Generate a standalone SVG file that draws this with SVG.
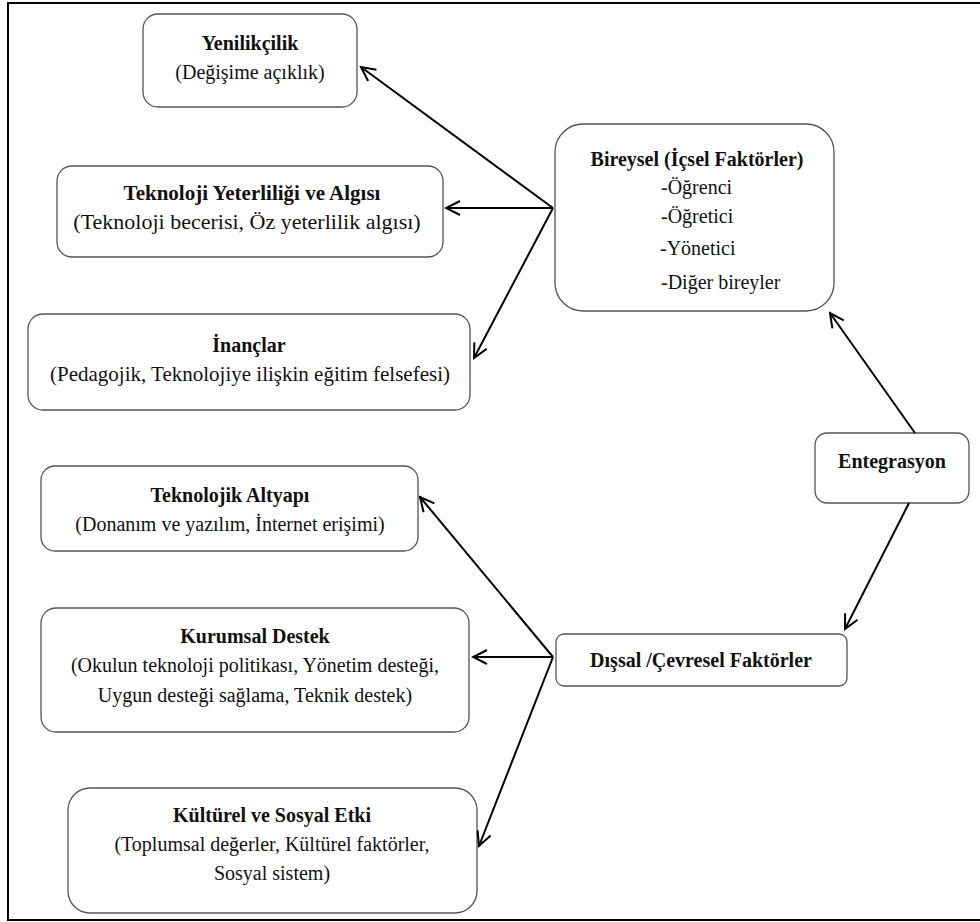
<svg xmlns="http://www.w3.org/2000/svg" width="980" height="922" viewBox="0 0 980 922">
<style>
  .box { fill: #ffffff; stroke: #555555; stroke-width: 1.3; }
  text { font-family: 'Liberation Serif', 'Times New Roman', Times, 'DejaVu Serif', serif; font-size: 20px; fill: #111111; text-anchor: middle; }
  .b { font-weight: bold; }
  .l { text-anchor: start; }
  .s21 { font-size: 21px; }
  .s22 { font-size: 22px; }
  .conn line { stroke: #000000; stroke-width: 2; marker-end: url(#arr); }
</style>
<defs>
  <marker id="arr" markerUnits="userSpaceOnUse" markerWidth="18" markerHeight="18" viewBox="0 0 18 18" refX="16" refY="9" orient="auto">
    <path d="M2,2 L16,9 L2,16" fill="none" stroke="#000000" stroke-width="2"/>
  </marker>
</defs>
<rect x="0" y="0" width="980" height="922" fill="#ffffff"/>
<path d="M990,3 H8 V920 H990" fill="none" stroke="#000000" stroke-width="2"/>

<g id="yenilikcilik">
  <rect class="box" x="143" y="14" width="214" height="93" rx="15"/>
  <text class="b" x="250" y="50">Yenilikçilik</text>
  <text x="250" y="79">(Değişime açıklık)</text>
</g>
<g id="teknoloji-yeterliligi">
  <rect class="box" x="57" y="166" width="386" height="91" rx="15"/>
  <text class="b s21" x="252" y="200">Teknoloji Yeterliliği ve Algısı</text>
  <text class="s22" x="247" y="229">(Teknoloji becerisi, Öz yeterlilik algısı)</text>
</g>
<g id="inanclar">
  <rect class="box" x="28" y="314" width="442" height="96" rx="15"/>
  <text class="b" x="249" y="352">İnançlar</text>
  <text class="s21" x="250" y="381">(Pedagojik, Teknolojiye ilişkin eğitim felsefesi)</text>
</g>
<g id="bireysel">
  <rect class="box" x="555" y="124" width="279" height="187" rx="28"/>
  <text class="b" x="697" y="166">Bireysel (İçsel Faktörler)</text>
  <text class="l" x="661" y="194">-Öğrenci</text>
  <text class="l" x="661" y="223">-Öğretici</text>
  <text class="l" x="660" y="255">-Yönetici</text>
  <text class="l" x="661" y="289">-Diğer bireyler</text>
</g>
<g id="entegrasyon">
  <rect class="box" x="815" y="433" width="154" height="70" rx="12"/>
  <text class="b" x="892" y="468">Entegrasyon</text>
</g>
<g id="teknolojik-altyapi">
  <rect class="box" x="41" y="466" width="377" height="85" rx="14"/>
  <text class="b" x="230" y="502">Teknolojik Altyapı</text>
  <text x="230" y="531">(Donanım ve yazılım, İnternet erişimi)</text>
</g>
<g id="kurumsal-destek">
  <rect class="box" x="41" y="608" width="428" height="124" rx="15"/>
  <text class="b" x="255" y="643">Kurumsal Destek</text>
  <text x="255" y="672">(Okulun teknoloji politikası, Yönetim desteği,</text>
  <text x="255" y="702">Uygun desteği sağlama, Teknik destek)</text>
</g>
<g id="dissal">
  <rect class="box" x="556" y="634" width="291" height="52" rx="8"/>
  <text class="b" x="701" y="667">Dışsal /Çevresel Faktörler</text>
</g>
<g id="kulturel">
  <rect class="box" x="68" y="788" width="409" height="125" rx="22"/>
  <text class="b" x="272" y="822">Kültürel ve Sosyal Etki</text>
  <text x="272" y="851">(Toplumsal değerler, Kültürel faktörler,</text>
  <text x="272" y="880">Sosyal sistem)</text>
</g>

<g id="connectors" class="conn">
  <line x1="553" y1="208" x2="361" y2="67"/>
  <line x1="553" y1="208" x2="446" y2="208"/>
  <line x1="553" y1="208" x2="474" y2="358"/>
  <line x1="915" y1="433" x2="830" y2="313"/>
  <line x1="909" y1="503" x2="845" y2="629"/>
  <line x1="553" y1="657" x2="420" y2="497"/>
  <line x1="553" y1="657" x2="473" y2="657"/>
  <line x1="553" y1="657" x2="479" y2="846"/>
</g>
</svg>
